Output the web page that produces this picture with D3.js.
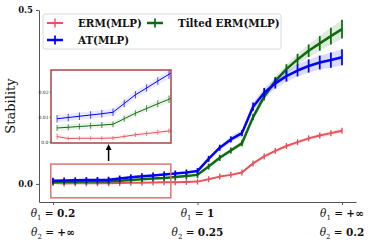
<!DOCTYPE html>
<html>
<head>
<meta charset="utf-8">
<script src="https://cdn.jsdelivr.net/npm/d3@7"></script>
<style>
  body { margin: 0; background: #fff; }
  text { font-family: "DejaVu Serif", serif; }
</style>
</head>
<body>
<div id="chart"></div>
<script>
// data
var steps = [0, 1, 2, 3, 4, 5, 6, 7, 8, 9, 10, 11, 12, 13, 14, 15, 16, 17, 18, 19, 20, 21, 22, 23, 24, 25, 26];

var ermMean = [0.0023, 0.0015, 0.0016, 0.0016, 0.0016, 0.0017, 0.0023, 0.003, 0.0035, 0.004, 0.0045, 0.005, 0.0058, 0.0066,
    0.0135, 0.021, 0.026, 0.033, 0.059, 0.079, 0.095, 0.109, 0.120, 0.131, 0.139, 0.146, 0.153];
var ermStd = [0.0012, 0.0008, 0.0008, 0.0008, 0.0008, 0.0008, 0.0008, 0.0009, 0.001, 0.001, 0.001, 0.0012, 0.0012, 0.0013,
    0.0015, 0.002, 0.002, 0.0025, 0.003, 0.0035, 0.004, 0.0045, 0.005, 0.0055, 0.006, 0.0065, 0.007];

var atMean = [0.0094, 0.0099, 0.0104, 0.0109, 0.0114, 0.012, 0.0155, 0.019, 0.0217, 0.0245, 0.0272, 0.030, 0.033, 0.037,
    0.072, 0.104, 0.128, 0.146, 0.222, 0.262, 0.289, 0.310, 0.326, 0.339, 0.349, 0.356, 0.364];
var atStd = [0.0015, 0.0015, 0.0015, 0.0015, 0.0015, 0.0015, 0.0015, 0.0015, 0.0015, 0.0015, 0.0018, 0.002, 0.002, 0.002,
    0.004, 0.006, 0.008, 0.009, 0.012, 0.014, 0.015, 0.016, 0.017, 0.019, 0.020, 0.022, 0.023];

var tiltMean = [0.0057, 0.006, 0.0063, 0.0066, 0.0069, 0.0072, 0.0094, 0.0116, 0.0135, 0.0154, 0.0172, 0.020, 0.023, 0.026,
    0.050, 0.075, 0.096, 0.117, 0.192, 0.251, 0.296, 0.330, 0.358, 0.383, 0.404, 0.425, 0.445];
var tiltStd = [0.0012, 0.0012, 0.0012, 0.0012, 0.0012, 0.0012, 0.0012, 0.0012, 0.0013, 0.0014, 0.0015, 0.0017, 0.002, 0.002,
    0.004, 0.005, 0.006, 0.007, 0.009, 0.011, 0.012, 0.014, 0.016, 0.018, 0.021, 0.024, 0.027];

var xTickPos = [0, 13, 26];
var theta1Labels = ["0.2", "1", "+\u221e"];
var theta2Labels = ["+\u221e", "0.25", "0.2"];
var yTicks = [0, 0.5];
var insetTicks = [0, 0.01, 0.02];
var insetTickLabels = ["0.0", "0.01", "0.02"];

var series = [
    {name: "ERM(MLP)", mean: ermMean, std: ermStd, color: "#e8525c", lw: 2},
    {name: "Tilted ERM(MLP)", mean: tiltMean, std: tiltStd, color: "#0d6b0d", lw: 2.5},
    {name: "AT(MLP)", mean: atMean, std: atStd, color: "#0000ff", lw: 2.5}
];

// set the dimensions and margins of the graph
var W = 374, H = 243;
var margin = {top: 10, right: 18, bottom: 41, left: 39};

var svg = d3.select("#chart")
    .append("svg")
    .attr("width", W)
    .attr("height", H);

var x = d3.scaleLinear()
    .domain([-1.26, 27.26])
    .range([margin.left, W - margin.right]);
var y = d3.scaleLinear()
    .domain([-0.052, 0.5])
    .range([H - margin.bottom, margin.top]);

// draw band + line + error bars for one series
function drawSeries(g, xs, ys, s, lw, mk, bandOp) {
    var area = d3.area()
        .x(function(d, i) { return xs(steps[i]); })
        .y0(function(d, i) { return ys(d - s.std[i]); })
        .y1(function(d, i) { return ys(d + s.std[i]); });
    g.append("path")
        .datum(s.mean)
        .attr("d", area)
        .attr("fill", s.color)
        .attr("fill-opacity", bandOp);

    var line = d3.line()
        .x(function(d, i) { return xs(steps[i]); })
        .y(function(d, i) { return ys(d); });
    g.append("path")
        .datum(s.mean)
        .attr("d", line)
        .attr("fill", "none")
        .attr("stroke", s.color)
        .attr("stroke-width", lw)
        .attr("stroke-linejoin", "round");

    g.selectAll(null)
        .data(s.mean)
        .enter()
        .append("line")
        .attr("x1", function(d, i) { return xs(steps[i]); })
        .attr("x2", function(d, i) { return xs(steps[i]); })
        .attr("y1", function(d, i) { return Math.min(ys(d + s.std[i]), ys(d) - mk); })
        .attr("y2", function(d, i) { return Math.max(ys(d - s.std[i]), ys(d) + mk); })
        .attr("stroke", s.color)
        .attr("stroke-width", lw * 0.7);
}

var plot = svg.append("g");
series.forEach(function(s) { drawSeries(plot, x, y, s, s.lw, 3, 0.14); });

// axes
var yAxis = svg.append("g")
    .attr("transform", "translate(" + margin.left + ",0)")
    .call(d3.axisLeft(y).tickValues(yTicks).tickFormat(d3.format(".1f")).tickSize(3).tickSizeOuter(0));
yAxis.select(".domain").attr("stroke", "#555");
yAxis.selectAll(".tick line").attr("stroke", "#555");
yAxis.selectAll("text")
    .style("font-family", "DejaVu Serif")
    .style("font-weight", "bold")
    .style("font-size", "8.5px")
    .attr("fill", "#111");

var xAxis = svg.append("g")
    .attr("transform", "translate(0," + (H - margin.bottom) + ")")
    .call(d3.axisBottom(x).tickValues(xTickPos).tickFormat("").tickSize(3).tickSizeOuter(0));
xAxis.select(".domain").attr("stroke", "#555");
xAxis.selectAll(".tick line").attr("stroke", "#555");

function thetaLabel(yPos, sub, val, px) {
    var t = svg.append("text")
        .attr("x", px)
        .attr("y", yPos)
        .attr("text-anchor", "middle")
        .style("font-size", "10.5px")
        .attr("fill", "#111");
    t.append("tspan").style("font-style", "italic").text("\u03b8");
    t.append("tspan").attr("dy", 2.5).style("font-size", "7px").text(sub);
    t.append("tspan").attr("dy", -2.5).text(" = ");
    t.append("tspan").style("font-weight", "bold").text(val);
}
xTickPos.forEach(function(p, i) {
    thetaLabel(217, "1", theta1Labels[i], x(p));
    thetaLabel(236, "2", theta2Labels[i], x(p));
});

svg.append("text")
    .attr("transform", "translate(15,106) rotate(-90)")
    .attr("text-anchor", "middle")
    .style("font-size", "13px")
    .attr("fill", "#111")
    .text("Stability");

// zoom box on the main plot
svg.append("rect")
    .attr("x", x(-0.2))
    .attr("y", y(0.057))
    .attr("width", x(10.6) - x(-0.2))
    .attr("height", y(-0.04) - y(0.057))
    .attr("fill", "none")
    .attr("stroke", "#e07272")
    .attr("stroke-width", 1.5);

// arrow
svg.append("defs").append("marker")
    .attr("id", "head")
    .attr("viewBox", "0 0 10 10")
    .attr("refX", 5).attr("refY", 5)
    .attr("markerWidth", 4).attr("markerHeight", 4)
    .attr("orient", "auto")
    .append("path")
    .attr("d", "M0,0 L10,5 L0,10 z")
    .attr("fill", "#000");
svg.append("line")
    .attr("x1", x(5)).attr("x2", x(5))
    .attr("y1", y(0.066)).attr("y2", y(0.106))
    .attr("stroke", "#000")
    .attr("stroke-width", 1.5)
    .attr("marker-end", "url(#head)");

// inset
var inset = {x0: 51, y0: 70, x1: 171, y1: 143};
var xi = d3.scaleLinear().domain([-0.54, 10.18]).range([inset.x0, inset.x1]);
var yi = d3.scaleLinear().domain([-0.0003, 0.0289]).range([inset.y1, inset.y0]);

svg.append("clipPath").attr("id", "clipInset")
    .append("rect")
    .attr("x", inset.x0).attr("y", inset.y0)
    .attr("width", inset.x1 - inset.x0).attr("height", inset.y1 - inset.y0);

svg.append("rect")
    .attr("x", inset.x0).attr("y", inset.y0)
    .attr("width", inset.x1 - inset.x0).attr("height", inset.y1 - inset.y0)
    .attr("fill", "#fff");

var ig = svg.append("g").attr("clip-path", "url(#clipInset)");
series.forEach(function(s) {
    drawSeries(ig, xi, yi, s, 1, 0.7, 0.08);
});

svg.append("rect")
    .attr("x", inset.x0).attr("y", inset.y0)
    .attr("width", inset.x1 - inset.x0).attr("height", inset.y1 - inset.y0)
    .attr("fill", "none")
    .attr("stroke", "#a94444")
    .attr("stroke-width", 1.5);

insetTicks.forEach(function(v, i) {
    svg.append("line")
        .attr("x1", inset.x0 - 2).attr("x2", inset.x0)
        .attr("y1", yi(v)).attr("y2", yi(v))
        .attr("stroke", "#555").attr("stroke-width", 0.5);
    svg.append("text")
        .attr("x", inset.x0 - 2.5)
        .attr("y", yi(v) + 1.7)
        .attr("text-anchor", "end")
        .style("font-size", "4.5px")
        .attr("fill", "#222")
        .text(insetTickLabels[i]);
});

// legend
var lg = svg.append("g");
lg.append("rect")
    .attr("x", 43).attr("y", 14)
    .attr("width", 238).attr("height", 35)
    .attr("rx", 2)
    .attr("fill", "#fff").attr("fill-opacity", 0.85)
    .attr("stroke", "#d0d0d0").attr("stroke-width", 0.8);

var legendPos = [[47, 23], [147, 23], [47, 40]];
series.forEach(function(s, i) {
    var p = legendPos[i];
    lg.append("line")
        .attr("x1", p[0]).attr("x2", p[0] + 16)
        .attr("y1", p[1]).attr("y2", p[1])
        .attr("stroke", s.color).attr("stroke-width", s.lw);
    lg.append("line")
        .attr("x1", p[0] + 8).attr("x2", p[0] + 8)
        .attr("y1", p[1] - 4.5).attr("y2", p[1] + 4.5)
        .attr("stroke", s.color).attr("stroke-width", s.lw * 0.7);
    lg.append("text")
        .attr("x", p[0] + 31)
        .attr("y", p[1] + 3.5)
        .style("font-size", "10.3px")
        .style("font-weight", "bold")
        .attr("fill", "#111")
        .text(s.name);
});
</script>
</body>
</html>
